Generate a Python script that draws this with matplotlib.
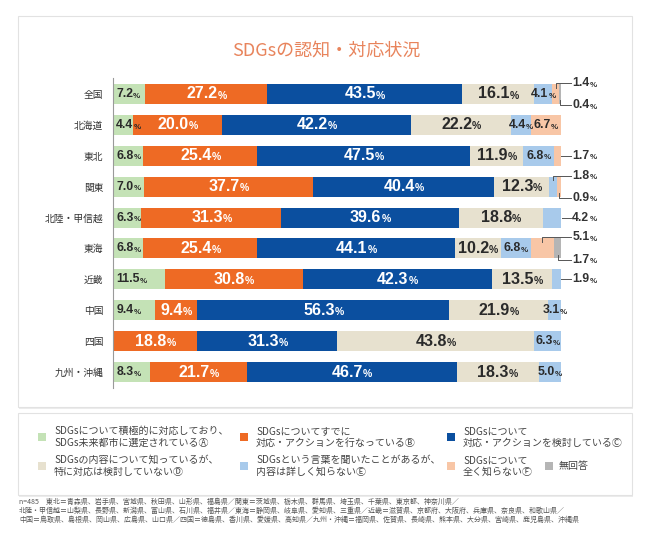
import matplotlib
matplotlib.use("Agg")
import matplotlib.pyplot as plt
from matplotlib.patches import Rectangle

JP = ["Noto Sans CJK JP", "DejaVu Sans"]
NUM = ["Liberation Sans", "DejaVu Sans"]
plt.rcParams["font.family"] = JP

regions = ["全国", "北海道", "東北", "関東", "北陸・甲信越", "東海", "近畿", "中国", "四国", "九州・沖縄"]

# share of answers per region (%)
sel_a = [7.2, 4.4, 6.8, 7.0, 6.3, 6.8, 11.5, 9.4, 0, 8.3]
act_b = [27.2, 20.0, 25.4, 37.7, 31.3, 25.4, 30.8, 9.4, 18.8, 21.7]
plan_c = [43.5, 42.2, 47.5, 40.4, 39.6, 44.1, 42.3, 56.3, 31.3, 46.7]
know_d = [16.1, 22.2, 11.9, 12.3, 18.8, 10.2, 13.5, 21.9, 43.8, 18.3]
heard_e = [4.1, 4.4, 6.8, 1.8, 4.2, 6.8, 1.9, 3.1, 6.3, 5.0]
none_f = [1.4, 6.7, 1.7, 0.9, 0, 5.1, 0, 0, 0, 0]
no_ans = [0.4, 0, 0, 0, 0, 1.7, 0, 0, 0, 0]

legend_labels = [
    "SDGsについて積極的に対応しており、\nSDGs未来都市に選定されているⒶ",
    "SDGsについてすでに\n対応・アクションを行なっているⒷ",
    "SDGsについて\n対応・アクションを検討しているⒸ",
    "SDGsの内容について知っているが、\n特に対応は検討していないⒹ",
    "SDGsという言葉を聞いたことがあるが、\n内容は詳しく知らないⒺ",
    "SDGsについて\n全く知らないⒻ",
    "無回答",
]

notes = [
    "n=485　東北＝青森県、岩手県、宮城県、秋田県、山形県、福島県／関東＝茨城県、栃木県、群馬県、埼玉県、千葉県、東京都、神奈川県／",
    "北陸・甲信越＝山梨県、長野県、新潟県、富山県、石川県、福井県／東海＝静岡県、岐阜県、愛知県、三重県／近畿＝滋賀県、京都府、大阪府、兵庫県、奈良県、和歌山県／",
    "中国＝鳥取県、島根県、岡山県、広島県、山口県／四国＝徳島県、香川県、愛媛県、高知県／九州・沖縄＝福岡県、佐賀県、長崎県、熊本県、大分県、宮崎県、鹿児島県、沖縄県",
]

series = [sel_a, act_b, plan_c, know_d, heard_e, none_f, no_ans]
colors = ["#c4e2b6", "#ee6a24", "#0b4f9f", "#e7e1cf", "#a8caeb", "#f8c6a6", "#b5b5b5"]
txt_col = ["#2a2a2a", "white", "white", "#2a2a2a", "#2a2a2a", "#2a2a2a", "#2a2a2a"]
big = [False, True, True, True, False, False, False]

# values shown outside the bar: (row, series index, where)
callouts = [(0, 5, "top"), (0, 6, "bottom"), (2, 5, "side"), (3, 4, "top"), (3, 5, "bottom"),
            (4, 4, "side"), (5, 5, "top"), (5, 6, "bottom"), (6, 4, "side")]

W, H = 650, 547
fig = plt.figure(figsize=(W / 100, H / 100), dpi=100)


def fx(x):
    return x / W


def fy(y):
    return 1 - y / H


# panels (behind everything)
for (x0, y0, x1, y1) in [(18, 16, 632, 407), (18, 413, 632, 495)]:
    fig.add_artist(Rectangle((fx(x0) + 0.002, fy(y1) - 0.003), fx(x1 - x0), (y1 - y0) / H,
                             transform=fig.transFigure, fc="#ececec", ec="none", zorder=-3))
    fig.add_artist(Rectangle((fx(x0), fy(y1)), fx(x1 - x0), (y1 - y0) / H,
                             transform=fig.transFigure, fc="white", ec="#e2e2e2", lw=0.8, zorder=-2))

fig.text(fx(326), fy(51), "SDGsの認知・対応状況", ha="center", va="center",
         fontsize=13, color="#e8845c")

ax = fig.add_axes([fx(113), fy(387.5), fx(448), 309 / H])
ax.set_xlim(0, 100)
ax.set_ylim(9.5, -0.5)
ax.patch.set_alpha(0)
for s in ["top", "right", "bottom"]:
    ax.spines[s].set_visible(False)
ax.spines["left"].set_color("#9a9a9a")
ax.spines["left"].set_linewidth(0.8)
ax.set_xticks([])
ax.set_yticks(range(len(regions)))
ax.set_yticklabels(regions, fontsize=7, color="#333333")
ax.tick_params(axis="y", length=0, pad=7)


def pct_label(x, y, v, size, color, ha="center", dx=None):
    if dx is None:
        dx = -0.28 * size if ha == "center" else 0
    t = ax.annotate(f"{v:.1f}", xy=(x, y), xytext=(dx, 0), textcoords="offset points",
                    ha=ha, va="center", fontsize=size, color=color, fontweight="bold",
                    family=NUM, annotation_clip=False)
    ax.annotate("%", xy=(1, 0.19), xycoords=t, ha="left", va="baseline",
                fontsize=size * 0.66, color=color, fontweight="bold", family=NUM,
                annotation_clip=False)


out = {(r, s): w for r, s, w in callouts}
left = [0.0] * len(regions)
for si, vals in enumerate(series):
    ax.barh(range(len(regions)), vals, left=left, height=0.65, color=colors[si], lw=0)
    for r, v in enumerate(vals):
        if v > 0:
            if (r, si) in out:
                where = out[(r, si)]
                xc = left[r] + v / 2
                if where == "side":
                    xs, ys = [sum(s[r] for s in series), 102.2], [r, r]
                else:
                    yl = r - 0.36 if where == "top" else r + 0.36
                    ye = r - 0.2 if where == "top" else r + 0.2
                    xs, ys = [xc, xc, 102.2], [ye, yl, yl]
                ax.plot(xs, ys, color="#555555", lw=0.7, clip_on=False)
                pct_label(102.5, ys[-1], v, 8.8, "#333333", ha="left")
            elif si == 0:
                pct_label(left[r] + 0.7, r, v, 8.8, txt_col[si], ha="left")
            else:
                pct_label(left[r] + v / 2, r, v, 11.5 if big[si] else 8.8, txt_col[si])
        left[r] += v

# legend
sw = [(38, 437), (240, 437), (447, 437), (38, 466), (240, 466), (447, 466), (545, 466)]
for i, (lx, ly) in enumerate(sw):
    fig.add_artist(Rectangle((fx(lx), fy(ly + 4)), 8 / W, 8 / H, transform=fig.transFigure,
                             fc=colors[i], ec="none"))
    fig.text(fx(lx + (16 if i < 6 else 14)), fy(ly), legend_labels[i], ha="left", va="center",
             fontsize=7.2, color="#444444", linespacing=1.2)

for i, line in enumerate(notes):
    fig.text(fx(19), fy(502 + 9 * i), line, ha="left", va="center", fontsize=5.0, color="#555555")

fig.savefig("out.png", dpi=100)
